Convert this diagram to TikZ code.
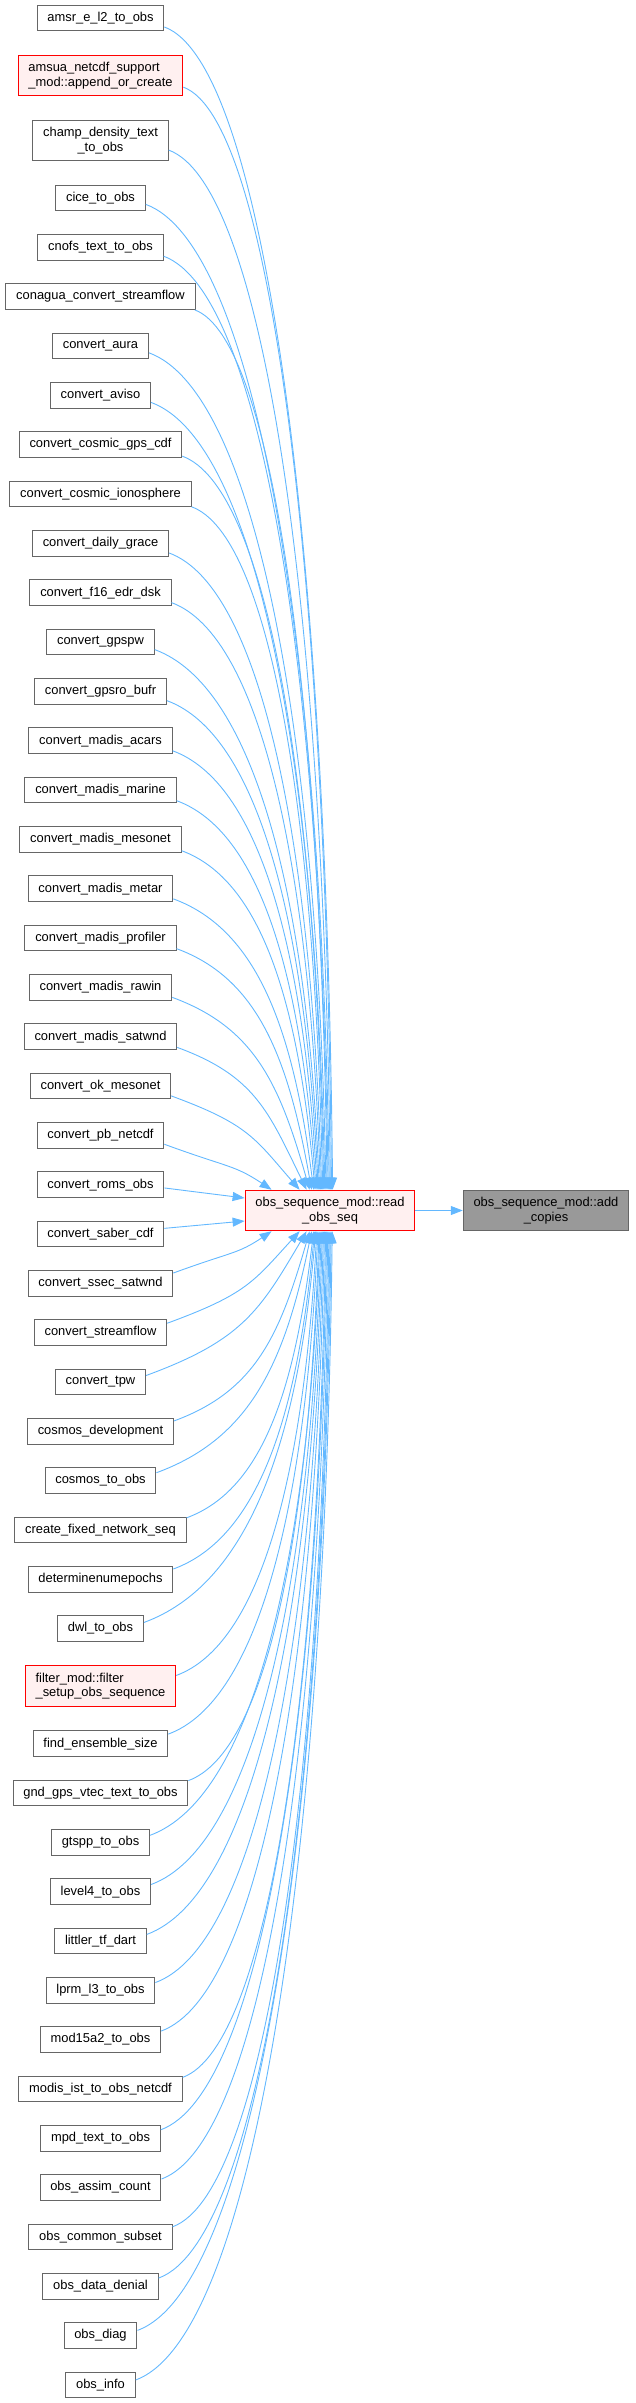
\documentclass[tikz,border=0pt]{standalone}
\usepackage{fontspec}
\setmainfont{Liberation Sans}
\usetikzlibrary{arrows.meta,calc}
\definecolor{edgeblue}{HTML}{63B8FF}
\definecolor{nodegray}{HTML}{666666}
\definecolor{redfill}{HTML}{FFF0F0}
\definecolor{rootfill}{HTML}{999999}
\tikzset{
  box/.style={draw=nodegray, line width=1pt, fill=white, inner xsep=10.3pt, inner ysep=2pt,
    minimum height=25.5pt, align=center, font=\fontsize{12.9}{14.5}\selectfont, text=black},
  two/.style={minimum height=40.5pt},
  hot/.style={draw=red, fill=redfill},
  root/.style={fill=rootfill},
  edge/.style={draw=edgeblue, line width=0.9pt, -{Triangle[length=12pt,width=9pt]}},
}
\newcommand\edgeup[2]{%
  \draw[edge] let \p1=(#1.-8), \p2=([xshift=#2pt]rs.north west),
    \n1={\x2-\x1}, \n2={\y1-\y2}, \n3={min(1,120/\n2)} in
    (\p1) .. controls (\x1+0.6*\n1, \y1-0.22*\n1) and (\x2-0.35*\n1*\n3, \y2+0.55*\n2) .. (\p2);}
\newcommand\edgedn[2]{%
  \draw[edge] let \p1=(#1.8), \p2=([xshift=#2pt]rs.south west),
    \n1={\x2-\x1}, \n2={\y2-\y1}, \n3={min(1,120/\n2)} in
    (\p1) .. controls (\x1+0.6*\n1, \y1+0.22*\n1) and (\x2-0.35*\n1*\n3, \y2-0.55*\n2) .. (\p2);}
\begin{document}
\begin{tikzpicture}[x=1pt,y=1pt]
\useasboundingbox (0,0) rectangle (635,-2403);
% central and right nodes
\node[box,two,hot] (rs) at (330,-1210.5) {obs\_sequence\_mod::read\\\_obs\_seq};
\node[box,two,root] (ac) at (546,-1210.5) {obs\_sequence\_mod::add\\\_copies};
% left column
\node[box] (n1) at (100.5,-18) {amsr\_e\_l2\_to\_obs};
\node[box,two,hot,align=left] (n2) at (100.5,-75.5) {amsua\_netcdf\_support\\\_mod::append\_or\_create};
\node[box,two] (n3) at (100.5,-140.5) {champ\_density\_text\\\_to\_obs};
\node[box] (n4) at (100.5,-198.00) {cice\_to\_obs};
\node[box] (n5) at (100.5,-247.33) {cnofs\_text\_to\_obs};
\node[box] (n6) at (100.5,-296.66) {conagua\_convert\_streamflow};
\node[box] (n7) at (100.5,-345.99) {convert\_aura};
\node[box] (n8) at (100.5,-395.32) {convert\_aviso};
\node[box] (n9) at (100.5,-444.65) {convert\_cosmic\_gps\_cdf};
\node[box] (n10) at (100.5,-493.98) {convert\_cosmic\_ionosphere};
\node[box] (n11) at (100.5,-543.31) {convert\_daily\_grace};
\node[box] (n12) at (100.5,-592.64) {convert\_f16\_edr\_dsk};
\node[box] (n13) at (100.5,-641.97) {convert\_gpspw};
\node[box] (n14) at (100.5,-691.30) {convert\_gpsro\_bufr};
\node[box] (n15) at (100.5,-740.63) {convert\_madis\_acars};
\node[box] (n16) at (100.5,-789.96) {convert\_madis\_marine};
\node[box] (n17) at (100.5,-839.29) {convert\_madis\_mesonet};
\node[box] (n18) at (100.5,-888.62) {convert\_madis\_metar};
\node[box] (n19) at (100.5,-937.95) {convert\_madis\_profiler};
\node[box] (n20) at (100.5,-987.28) {convert\_madis\_rawin};
\node[box] (n21) at (100.5,-1036.61) {convert\_madis\_satwnd};
\node[box] (n22) at (100.5,-1085.94) {convert\_ok\_mesonet};
\node[box] (n23) at (100.5,-1135.27) {convert\_pb\_netcdf};
\node[box] (n24) at (100.5,-1184.60) {convert\_roms\_obs};
\node[box] (n25) at (100.5,-1233.93) {convert\_saber\_cdf};
\node[box] (n26) at (100.5,-1283.26) {convert\_ssec\_satwnd};
\node[box] (n27) at (100.5,-1332.59) {convert\_streamflow};
\node[box] (n28) at (100.5,-1381.92) {convert\_tpw};
\node[box] (n29) at (100.5,-1431.25) {cosmos\_development};
\node[box] (n30) at (100.5,-1480.58) {cosmos\_to\_obs};
\node[box] (n31) at (100.5,-1529.91) {create\_fixed\_network\_seq};
\node[box] (n32) at (100.5,-1579.24) {determinenumepochs};
\node[box] (n33) at (100.5,-1628.57) {dwl\_to\_obs};
\node[box,two,hot,align=left] (n34) at (100.5,-1686.1) {filter\_mod::filter\\\_setup\_obs\_sequence};
\node[box] (n35) at (100.5,-1743.60) {find\_ensemble\_size};
\node[box] (n36) at (100.5,-1792.93) {gnd\_gps\_vtec\_text\_to\_obs};
\node[box] (n37) at (100.5,-1842.26) {gtspp\_to\_obs};
\node[box] (n38) at (100.5,-1891.59) {level4\_to\_obs};
\node[box] (n39) at (100.5,-1940.92) {littler\_tf\_dart};
\node[box] (n40) at (100.5,-1990.25) {lprm\_l3\_to\_obs};
\node[box] (n41) at (100.5,-2039.58) {mod15a2\_to\_obs};
\node[box] (n42) at (100.5,-2088.91) {modis\_ist\_to\_obs\_netcdf};
\node[box] (n43) at (100.5,-2138.24) {mpd\_text\_to\_obs};
\node[box] (n44) at (100.5,-2187.57) {obs\_assim\_count};
\node[box] (n45) at (100.5,-2236.90) {obs\_common\_subset};
\node[box] (n46) at (100.5,-2286.23) {obs\_data\_denial};
\node[box] (n47) at (100.5,-2335.56) {obs\_diag};
\node[box] (n48) at (100.5,-2384.89) {obs\_info};
% edges from upper nodes
\foreach \i in {1,...,17}{
  \pgfmathsetmacro\o{88-(\i-1)*1.1}
  \edgeup{n\i}{\o}
}
\foreach \i/\o in {18/69,19/67,20/65,21/62,22/55,23/27}{
  \edgeup{n\i}{\o}
}
% side edges
\draw[edge] (n24.-3) -- ([yshift=12.5pt]rs.west);
\draw[edge] (n25.5) -- ([yshift=-10.5pt]rs.west);
% edges from lower nodes
\foreach \i/\o in {26/27,27/55,28/62,29/65,30/67,31/69}{
  \edgedn{n\i}{\o}
}
\foreach \i in {32,...,48}{
  \pgfmathsetmacro\o{70+(\i-32)*1.1}
  \edgedn{n\i}{\o}
}
% to the called function
\draw[edge] (rs.east) -- (ac.west);
\end{tikzpicture}
\end{document}
